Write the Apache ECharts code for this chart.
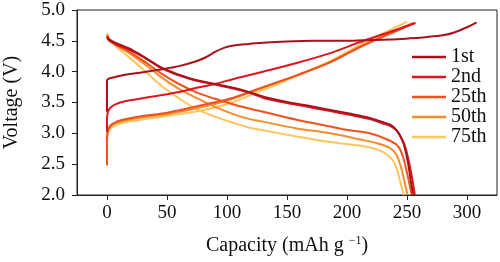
<!DOCTYPE html>
<html>
<head>
<meta charset="utf-8">
<script src="https://cdn.jsdelivr.net/npm/echarts@6/dist/echarts.min.js"></script>
<style>html,body{margin:0;padding:0;background:#fff;}#c{width:500px;height:262px;}</style>
</head>
<body>
<div id="c"></div>
<script>
// Cycle names and colours
const cycles = ['1st', '2nd', '25th', '50th', '75th'];
const colors = ['#a8121c', '#dc1720', '#ef521e', '#f68c2c', '#fdc55e'];

// X axis ticks
const xTicks = [0, 50, 100, 150, 200, 250, 300];

// Charge curves: [capacity mAh/g, voltage V]
const charge1st = [[0,3.35],[0,3.86],[2,3.89],[6,3.91],[15,3.95],[30,3.99],[46,4.04],[60,4.09],[73,4.16],[82,4.23],[90,4.32],[98,4.39],[107,4.43],[118,4.45],[130,4.47],[150,4.49],[172,4.50],[200,4.50],[214,4.51],[235,4.52],[252,4.54],[265,4.56],[280,4.59],[290,4.64],[300,4.72],[308,4.80]];
const charge2nd = [[0,3.02],[0,3.25],[1,3.36],[3,3.42],[7,3.47],[15,3.52],[30,3.57],[46,3.62],[60,3.67],[73,3.73],[90,3.80],[107,3.89],[130,4.00],[158,4.14],[186,4.30],[211,4.48],[235,4.64],[257,4.79]];
const charge25th = [[0,2.48],[0,2.90],[0.5,3.03],[2.5,3.12],[8,3.19],[18,3.24],[30,3.28],[46,3.32],[73,3.43],[102,3.56],[130,3.75],[158,3.94],[186,4.15],[211,4.40],[228,4.55],[245,4.69],[257,4.79]];
const charge50th = [[0,2.55],[0,2.90],[0.5,3.00],[2.5,3.10],[8,3.17],[18,3.22],[30,3.26],[46,3.30],[73,3.40],[102,3.54],[130,3.74],[158,3.94],[186,4.16],[211,4.41],[235,4.62],[255,4.79]];
const charge75th = [[0,2.62],[0,2.90],[0.5,2.98],[2.5,3.07],[8,3.14],[18,3.19],[46,3.27],[73,3.35],[101,3.48],[130,3.70],[158,3.93],[186,4.17],[211,4.44],[232,4.64],[250,4.81]];

// Discharge curves
const discharge1st = [[0,4.57],[2,4.52],[8,4.46],[18,4.38],[30,4.25],[46,4.06],[60,3.95],[73,3.87],[90,3.80],[107,3.73],[120,3.66],[133,3.58],[150,3.51],[167,3.45],[186,3.38],[202,3.32],[219,3.25],[230,3.18],[236,3.14],[241,3.06],[245,2.93],[248,2.78],[251,2.50],[253,2.25],[255,2.00]];
const discharge2nd = [[0,4.55],[2,4.50],[8,4.44],[18,4.36],[30,4.24],[46,4.05],[60,3.94],[73,3.86],[90,3.79],[107,3.72],[120,3.65],[133,3.56],[150,3.49],[167,3.43],[186,3.36],[202,3.30],[219,3.23],[230,3.16],[237,3.11],[242,3.03],[246,2.90],[249,2.75],[252,2.50],[254.5,2.25],[256.5,2.00]];
const discharge25th = [[0,4.58],[2,4.51],[8,4.43],[18,4.33],[30,4.18],[46,3.96],[60,3.80],[75,3.66],[90,3.56],[107,3.46],[119,3.40],[130,3.35],[158,3.22],[186,3.11],[202,3.05],[219,3.00],[236,2.88],[243,2.78],[247,2.60],[250,2.36],[252,2.18],[254,2.00]];
const discharge50th = [[0,4.60],[2,4.52],[8,4.42],[18,4.31],[30,4.14],[46,3.90],[60,3.72],[75,3.57],[90,3.43],[107,3.30],[119,3.23],[130,3.19],[158,3.08],[186,3.00],[211,2.90],[225,2.84],[236,2.76],[241,2.66],[245,2.45],[247,2.30],[249,2.12],[250.5,2.00]];
const discharge75th = [[0,4.62],[2,4.53],[8,4.40],[18,4.24],[30,4.04],[46,3.76],[62,3.54],[73,3.41],[90,3.27],[107,3.16],[119,3.09],[130,3.05],[158,2.95],[186,2.86],[211,2.80],[225,2.74],[233,2.66],[239,2.54],[242,2.40],[244,2.24],[246,2.10],[247.5,2.00]];

const chargeData = [charge1st, charge2nd, charge25th, charge50th, charge75th];
const dischargeData = [discharge1st, discharge2nd, discharge25th, discharge50th, discharge75th];

const font = 'Liberation Serif';
const series = [];
for (let i = cycles.length - 1; i >= 0; i--) {
  [chargeData[i], dischargeData[i]].forEach(d => {
    series.push({
      name: cycles[i], type: 'line', data: d, symbol: 'none', showSymbol: false, smooth: 0.3,
      lineStyle: { width: 2, color: colors[i] }, itemStyle: { color: colors[i] },
      animation: false
    });
  });
}

const chart = echarts.init(document.getElementById('c'), null, { renderer: 'canvas' });
chart.setOption({
  backgroundColor: '#fff',
  animation: false,
  grid: { left: 77, right: 3, top: 10, bottom: 67, show: true, borderColor: '#222', borderWidth: 1, outerBoundsMode: 'none', containLabel: false },
  legend: {
    data: cycles.map((n, i) => ({ name: n, icon: 'rect', itemStyle: { color: colors[i] } })),
    orient: 'vertical', left: 412, top: 47, padding: 0,
    itemWidth: 34, itemHeight: 2.5, itemGap: 0,
    textStyle: { fontFamily: font, fontSize: 20, color: '#111', lineHeight: 20 }
  },
  xAxis: {
    type: 'value', min: -25, max: 325,
    name: 'Capacity (mAh g {sup|−1})', nameLocation: 'middle', nameGap: 40,
    nameTextStyle: { fontFamily: font, fontSize: 20, color: '#111', rich: { sup: { fontFamily: font, fontSize: 12, verticalAlign: 'top', padding: [0, 0, 10, 0], color: '#111' } } },
    axisLine: { show: true, onZero: false, lineStyle: { color: '#222', width: 1 } },
    axisTick: { show: true, inside: false, length: 5, customValues: xTicks, lineStyle: { color: '#222' } },
    axisLabel: { customValues: xTicks, margin: 9, fontFamily: font, fontSize: 19, color: '#111' },
    splitLine: { show: false }
  },
  yAxis: {
    type: 'value', min: 2, max: 5, interval: 0.5,
    name: 'Voltage (V)', nameLocation: 'middle', nameGap: 55, nameRotate: 90,
    nameTextStyle: { fontFamily: font, fontSize: 20, color: '#111' },
    axisLine: { show: true, onZero: false, lineStyle: { color: '#222', width: 1 } },
    axisTick: { show: true, inside: false, length: 5, lineStyle: { color: '#222' } },
    axisLabel: { margin: 12, fontFamily: font, fontSize: 19, color: '#111', formatter: v => v.toFixed(1) },
    splitLine: { show: false }
  },
  series: series
});
</script>
</body>
</html>
